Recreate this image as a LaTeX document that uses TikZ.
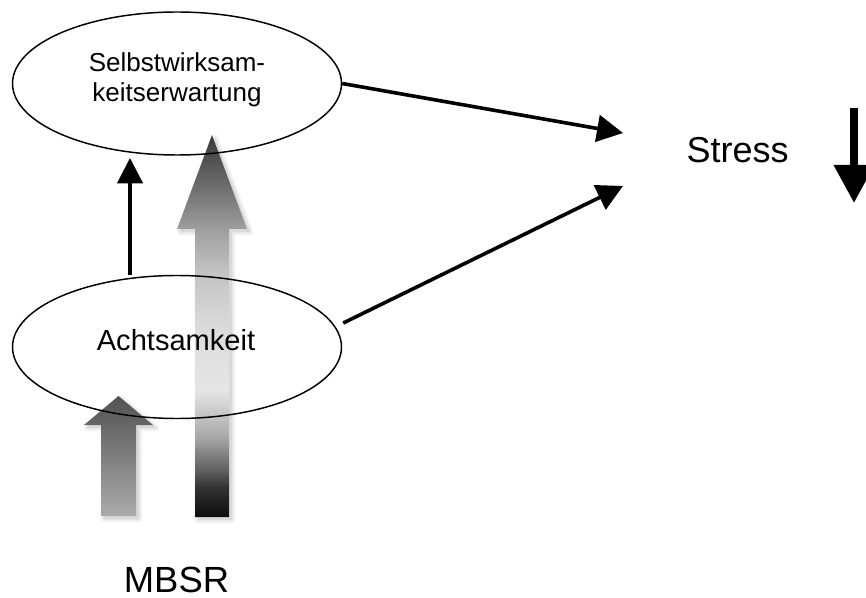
\documentclass[tikz,border=0pt]{standalone}
\usepackage{fontspec}
\setmainfont{Liberation Sans}
\usetikzlibrary{arrows.meta,shapes.geometric,calc}

% grey ramp of the long MBSR arrow, bottom (0bp) to top (100bp)
\pgfdeclareverticalshading{mbsrlong}{100bp}{%
  color(0bp)=(black!95); color(25bp)=(black!95); color(28.9bp)=(black!80);
  color(31.2bp)=(black!62); color(33.4bp)=(black!48); color(35.5bp)=(black!34);
  color(41.6bp)=(black!10); color(49.5bp)=(black!14); color(57.3bp)=(black!24);
  color(62.7bp)=(black!38); color(69.1bp)=(black!60); color(75bp)=(black!78);
  color(100bp)=(black!78)}

\begin{document}
\begin{tikzpicture}[x=0.75pt,y=-0.75pt,
  bubble/.style={draw=black, line width=1.1pt, ellipse, minimum width=246.75pt,
    minimum height=107.25pt, inner sep=0pt},
  lbl/.style={font=\fontsize{19.5}{22.5}\selectfont, align=center, inner sep=0pt},
  big/.style={font=\fontsize{27}{30}\selectfont, inner sep=0pt},
  halo1/.style={draw=black!4, fill=black!4, line width=5pt, line join=round},
  halo2/.style={draw=black!9, fill=black!9, line width=2.5pt, line join=round},
  halo3/.style={fill=black!15},
  link/.style={line width=2.7pt, -{Triangle[length=19.5pt,width=20pt]}},
  uplink/.style={line width=2.4pt, -{Triangle[length=19pt,width=19pt]}},
  ]
\useasboundingbox (0,0) rectangle (866,598);

% soft shadows under the block arrows
\begin{scope}[shift={(3,3)}]
  \foreach \s in {halo1,halo2,halo3}{
    \path[\s] (195,517) -- (195,229) -- (177,229) -- (212,135)
      -- (247,229) -- (229,229) -- (229,517) -- cycle;
    \path[\s] (101,516) -- (101,425) -- (84,425) -- (118.5,396)
      -- (153,425) -- (136,425) -- (136,516) -- cycle;
  }
\end{scope}

% block arrows from MBSR
\shade[shading=mbsrlong] (195,517) -- (195,229) -- (177,229) -- (212,135)
  -- (247,229) -- (229,229) -- (229,517) -- cycle;
\shade[top color=black!68, bottom color=black!33] (101,516) -- (101,425)
  -- (84,425) -- (118.5,396) -- (153,425) -- (136,425) -- (136,516) -- cycle;

% constructs
\node[bubble] (sw) at (177,83.5) {};
\node[bubble] (ach) at (177,347) {};
\node[lbl] (swt) at (177,80) {Selbstwirksam-\\keitserwartung};
\node[lbl, anchor=base, font=\fontsize{21.8}{24}\selectfont] (acht) at (176,350) {Achtsamkeit};
\node[big, anchor=base] (stress) at (737.5,163) {Stress};
\node[big, anchor=base, font=\fontsize{27.3}{30}\selectfont] (mbsr) at (176.5,592) {MBSR};

% effects on stress
\coordinate (t1) at (623,133);
\coordinate (t2) at (623,186);
\coordinate (t3) at (130,158);
\draw[link] (sw.east) -- (t1);
\draw[link] ($(ach.east)+(1,-24)$) -- (t2);
\draw[uplink] (ach.north -| t3) -- (t3);

% decrease marker
\coordinate (d1) at (854,108);
\coordinate (d2) at (854,203);
\draw[line width=6pt, -{Triangle[length=28.5pt,width=29pt]}] (d1) -- (d2);
\end{tikzpicture}
\end{document}
